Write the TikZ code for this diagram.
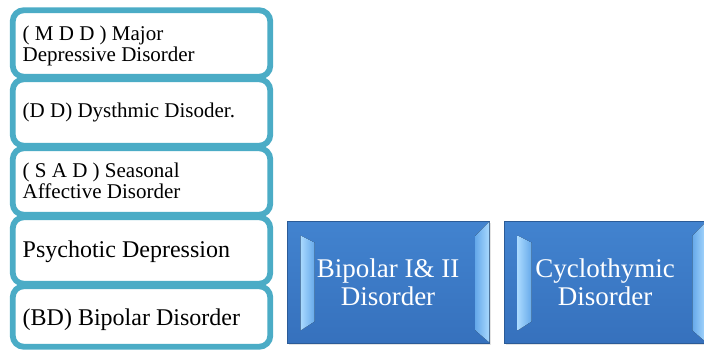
\documentclass[tikz,border=0pt]{standalone}
\usepackage{fontspec}
\setmainfont{Liberation Serif}
\usetikzlibrary{shadows,calc}
\definecolor{tealbox}{HTML}{4BACC6}
\definecolor{bluetop}{HTML}{4283CF}
\definecolor{bluebot}{HTML}{3671BD}
\definecolor{blueedge}{HTML}{2B5B97}
\definecolor{facelight}{HTML}{A9D9FE}
\definecolor{facemid}{HTML}{66A9EA}
\begin{document}
\begin{tikzpicture}[x=1pt,y=-1pt,
  listbox/.style={draw=tealbox, line width=5.8pt, fill=white, rounded corners=11pt,
    minimum width=257.5pt, inner sep=0pt},
  smalltxt/.style={anchor=west, align=left, inner sep=0pt,
    font=\fontsize{21}{21.5}\selectfont},
  bigtxt/.style={anchor=west, align=left, inner sep=0pt,
    font=\fontsize{24}{26}\selectfont},
  bevelbox/.style={draw=blueedge, line width=0.8pt, top color=bluetop, bottom color=bluebot,
    minimum width=202pt, minimum height=122pt, inner sep=0pt, align=center,
    text=white, font=\fontsize{27}{28}\selectfont,
    drop shadow={opacity=0.22, shadow xshift=1.5pt, shadow yshift=-2pt}},
  leftface/.style={left color=facelight, right color=facemid, draw=none},
  rightface/.style={left color=facemid, right color=facelight, draw=none}
]
\useasboundingbox (0,0) rectangle (704,350);

% left list boxes
\node[listbox, minimum height=66.5pt] (b1) at (141.5,43.5) {};
\node[listbox, minimum height=66.5pt] (b2) at (141.5,112.5) {};
\node[listbox, minimum height=66.5pt] (b3) at (141.5,181.5) {};
\node[listbox, minimum height=66.5pt] (b4) at (141.5,250.5) {};
\node[listbox, minimum height=60.5pt] (b5) at (141.5,316.5) {};

\node[smalltxt] (t1) at (22.5,46) {( M D D ) Major\\Depressive Disorder};
\node[smalltxt] (t2) at (22.5,112) {(D D) Dysthmic Disoder.};
\node[smalltxt] (t3) at (22.5,181) {( S A D ) Seasonal\\Affective Disorder};
\node[bigtxt] (t4) at (22.5,251.5) {Psychotic Depression};
\node[bigtxt] (t5) at (22.5,319.5) {(BD) Bipolar Disorder};

% bevelled blue boxes
\node[bevelbox] (ba) at (388,282) {Bipolar I\& II\\Disorder};
\node[bevelbox] (bb) at (605,282) {Cyclothymic\\Disorder};

\foreach \b in {ba,bb}{
  \fill[leftface] ($(\b.north west)+(14,15)$) -- ($(\b.north west)+(28,22)$)
     -- ($(\b.south west)+(28,-22)$) -- ($(\b.south west)+(14,-13)$) -- cycle;
  \fill[rightface] ($(\b.north east)+(-14,15)$) -- ($(\b.north east)+(0,1)$)
     -- ($(\b.south east)+(0,-1)$) -- ($(\b.south east)+(-14,-13)$) -- cycle;
}
\end{tikzpicture}
\end{document}
